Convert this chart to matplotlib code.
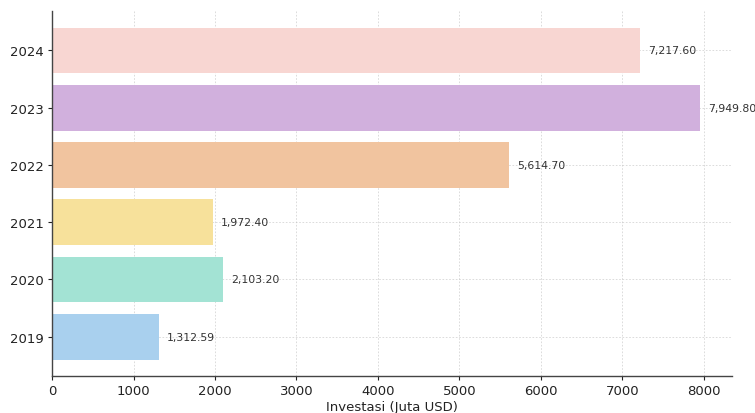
import matplotlib
matplotlib.use("Agg")
import matplotlib.pyplot as plt

years = ["2019", "2020", "2021", "2022", "2023", "2024"]
investasi = [1312.59, 2103.20, 1972.40, 5614.70, 7949.80, 7217.60]
value_labels = ["1,312.59", "2,103.20", "1,972.40", "5,614.70", "7,949.80", "7,217.60"]
colors = ["#a9d0ee", "#a3e3d4", "#f7e19b", "#f1c49f", "#d1b0dd", "#f8d6d2"]

fig = plt.figure(figsize=(7.55, 4.14), dpi=100)
ax = fig.add_axes([0.069, 0.089, 0.9005, 0.882])

bars = ax.barh(years, investasi, height=0.8, color=colors, zorder=2)

for bar, txt in zip(bars, value_labels):
    ax.text(bar.get_width() + 100, bar.get_y() + bar.get_height() / 2, txt,
            va="center", ha="left", fontsize=7.8, color="#333333", zorder=4)

ax.set_xlim(0, 8347)
ax.set_xticks([0, 1000, 2000, 3000, 4000, 5000, 6000, 7000, 8000])
ax.set_xlabel("Investasi (Juta USD)", fontsize=9.5, color="#222222", labelpad=2)
ax.grid(True, linestyle=(0, (2, 2)), color="#bbbbbb", linewidth=0.6, alpha=0.6, zorder=3)

for side in ["top", "right"]:
    ax.spines[side].set_visible(False)
for side in ["left", "bottom"]:
    ax.spines[side].set_color("#444444")
    ax.spines[side].set_linewidth(1.0)

ax.tick_params(axis="both", labelsize=9.5, colors="#222222", length=3, width=0.8, pad=3)

fig.savefig("out.png", dpi=100)
